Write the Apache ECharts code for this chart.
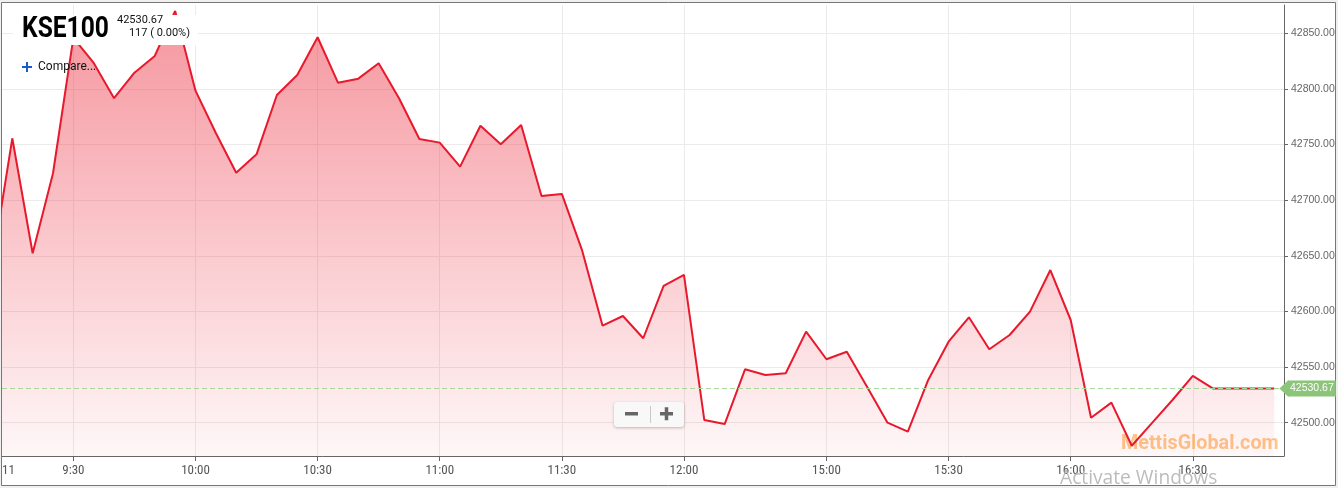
<!DOCTYPE html>
<html>
<head>
<meta charset="utf-8">
<script src="https://cdn.jsdelivr.net/npm/echarts@6/dist/echarts.min.js"></script>
<style>
html,body{margin:0;padding:0;background:#f0f0f0;}
#chart{width:1338px;height:488px;}
</style>
</head>
<body>
<div id="chart"></div>
<script>
// ---- data ----
const times = ['9:10','9:15','9:20','9:25','9:30','9:35','9:40','9:45','9:50','9:55','10:00',
  '10:05','10:10','10:15','10:20','10:25','10:30','10:35','10:40','10:45','10:50','10:55','11:00',
  '11:05','11:10','11:15','11:20','11:25','11:30','11:35','11:40','11:45','11:50','11:55','12:00',
  '14:30','14:35','14:40','14:45','14:50','14:55','15:00','15:05','15:10','15:15','15:20','15:25','15:30',
  '15:35','15:40','15:45','15:50','15:55','16:00','16:05','16:10','16:15','16:20','16:25','16:30',
  '16:35','16:40','16:45','16:50'];
const values = [42640.5,42755.6,42652.3,42724.2,42845.8,42823.3,42791.6,42814.6,42829.6,42870.0,42798.4,
  42760.4,42724.7,42741.2,42794.5,42812.5,42846.4,42805.6,42809.2,42823.0,42791.6,42755.0,42751.7,
  42730.1,42766.9,42750.2,42767.6,42703.8,42705.6,42654.6,42587.2,42595.9,42575.9,42622.9,42632.8,
  42502.4,42498.8,42548.0,42542.9,42544.4,42581.8,42557.0,42563.8,42532.1,42500.0,42491.9,42538.4,
  42572.8,42594.7,42566.0,42578.8,42599.8,42637.2,42592.3,42504.5,42518.0,42479.3,42499.9,42520.4,
  42542.0,42530.67,42530.67,42530.67,42530.67];
const tickTimes = ['9:30','10:00','10:30','11:00','11:30','12:00','15:00','15:30','16:00','16:30'];
const dayLabel = '11';
const yTicks = [42500,42550,42600,42650,42700,42750,42800,42850];
const lastPrice = 42530.67;
const changeText = '117 ( 0.00%)';
const symbolName = 'KSE100';

// ---- view window (index units / price units) ----
const xMin = 0.494, xMax = 63.48;
const yMin = 42470.07, yMax = 42875.4;

const tickPos = tickTimes.map(t => times.indexOf(t));
const condensed = "'Roboto Condensed','Liberation Sans Narrow','DejaVu Sans Condensed',Roboto,sans-serif";
const tagGreen = '#8cc47a';

const chart = echarts.init(document.getElementById('chart'), null, {renderer: 'canvas'});
const option = {
  animation: false,
  backgroundColor: '#f0f0f0',
  grid: {left: 2, right: 54, top: 5, bottom: 32, containLabel: false, outerBoundsMode: 'none'},
  xAxis: {
    type: 'value', min: xMin, max: xMax,
    axisLine: {show: true, onZero: false, lineStyle: {color: '#666', width: 1}},
    axisTick: {show: true, length: 5, customValues: tickPos, lineStyle: {color: '#666'}},
    axisLabel: {
      show: true, customValues: [xMin].concat(tickPos), alignMinLabel: 'left',
      color: '#555', fontSize: 13, fontFamily: condensed, margin: 8,
      formatter: function (v) {
        if (Math.abs(v - xMin) < 1e-6) return dayLabel;
        const i = Math.round(v);
        return times[i] || '';
      }
    },
    splitLine: {show: true, lineStyle: {color: '#ebebeb', width: 1}}
  },
  yAxis: {
    type: 'value', position: 'right', min: yMin, max: yMax, scale: true,
    axisLine: {show: true, onZero: false, lineStyle: {color: '#666', width: 1}},
    axisTick: {show: true, length: 4, customValues: yTicks, lineStyle: {color: '#666'}},
    axisLabel: {
      show: true, customValues: yTicks, color: '#666', fontSize: 10.5,
      fontFamily: "'Liberation Sans',Arial,sans-serif", margin: 7,
      formatter: v => v.toFixed(2)
    },
    splitLine: {show: true, lineStyle: {color: '#ebebeb', width: 1}}
  },
  series: [{
    type: 'line',
    data: values.map((v, i) => [i, v]),
    symbol: 'none', clip: true, z: 3,
    lineStyle: {color: '#e8192c', width: 2},
    areaStyle: {
      opacity: 1,
      color: new echarts.graphic.LinearGradient(0, 0, 0, 1, [
        {offset: 0, color: 'rgba(236,45,62,0.5)'},
        {offset: 1, color: 'rgba(236,45,62,0.04)'}
      ])
    },
    markLine: {
      silent: true, animation: false, symbol: 'none',
      data: [
        {yAxis: lastPrice, lineStyle: {color: '#a9d69a', type: [5, 3], width: 1},
          label: {show: true, position: 'end', distance: 4, formatter: () => lastPrice.toFixed(2),
            backgroundColor: tagGreen, color: '#fff', padding: [3, 2, 2, 2], fontSize: 10.5,
            fontFamily: "'Liberation Sans',Arial,sans-serif"}}
      ]
    },
    markPoint: {
      silent: true, animation: false,
      symbol: 'triangle', symbolSize: [17, 9], symbolRotate: 90,
      itemStyle: {color: tagGreen},
      label: {show: false},
      data: [{coord: [xMax, lastPrice]}]
    }
  }],
  graphic: [
    {type: 'rect', z: -100, shape: {x: 1.5, y: 2.5, width: 1334, height: 483},
      style: {fill: '#fff', stroke: '#777', lineWidth: 1}},
    // title block
    {type: 'rect', z: 100, shape: {x: 13, y: 15, width: 185, height: 30}, style: {fill: '#fff'}},
    {type: 'text', z: 101, x: 22, y: 14, scaleX: 0.82,
      style: {text: symbolName, font: 'bold 30px Roboto', fill: '#000', textVerticalAlign: 'top', verticalAlign: 'top'}},
    {type: 'text', z: 101, x: 117, y: 15,
      style: {text: lastPrice.toFixed(2), font: '11px Roboto', fill: '#111', textVerticalAlign: 'top', verticalAlign: 'top'}},
    {type: 'text', z: 101, x: 190, y: 28,
      style: {text: changeText, font: '11px Roboto', fill: '#111', textAlign: 'right', align: 'right', textVerticalAlign: 'top', verticalAlign: 'top'}},
    // compare
    {type: 'rect', z: 101, shape: {x: 22, y: 66, width: 10, height: 2}, style: {fill: '#1a5cc8'}},
    {type: 'rect', z: 101, shape: {x: 26, y: 62, width: 2, height: 10}, style: {fill: '#1a5cc8'}},
    {type: 'text', z: 101, x: 38, y: 67,
      style: {text: 'Compare...', font: '12px Roboto', fill: '#111', textVerticalAlign: 'middle', verticalAlign: 'middle'}},
    // zoom buttons
    {type: 'rect', z: 100, shape: {x: 614, y: 402, width: 70, height: 25, r: 3},
      style: {fill: '#f8f8f8', shadowBlur: 3, shadowOffsetY: 1, shadowColor: 'rgba(0,0,0,0.25)'}},
    {type: 'rect', z: 101, shape: {x: 625, y: 412, width: 13, height: 3.5}, style: {fill: '#666'}},
    {type: 'rect', z: 101, shape: {x: 660, y: 412, width: 13, height: 3.5}, style: {fill: '#666'}},
    {type: 'rect', z: 101, shape: {x: 664.75, y: 407.25, width: 3.5, height: 13}, style: {fill: '#666'}},
    {type: 'line', z: 101, shape: {x1: 650.5, y1: 406, x2: 650.5, y2: 423}, style: {stroke: '#c8c8c8', lineWidth: 1}},
    // watermarks
    {type: 'text', z: 1, x: 1121, y: 444, scaleX: 0.94,
      style: {text: 'MettisGlobal.com', font: 'bold 21px Roboto', fill: 'rgba(255,140,20,0.5)', textVerticalAlign: 'middle', verticalAlign: 'middle'}},
    {type: 'text', z: 200, x: 1060, y: 479,
      style: {text: 'Activate Windows', font: '19.2px "Open Sans"', fill: '#bcbcbc', textVerticalAlign: 'middle', verticalAlign: 'middle'}}
  ]
};
chart.setOption(option);
</script>
</body>
</html>
